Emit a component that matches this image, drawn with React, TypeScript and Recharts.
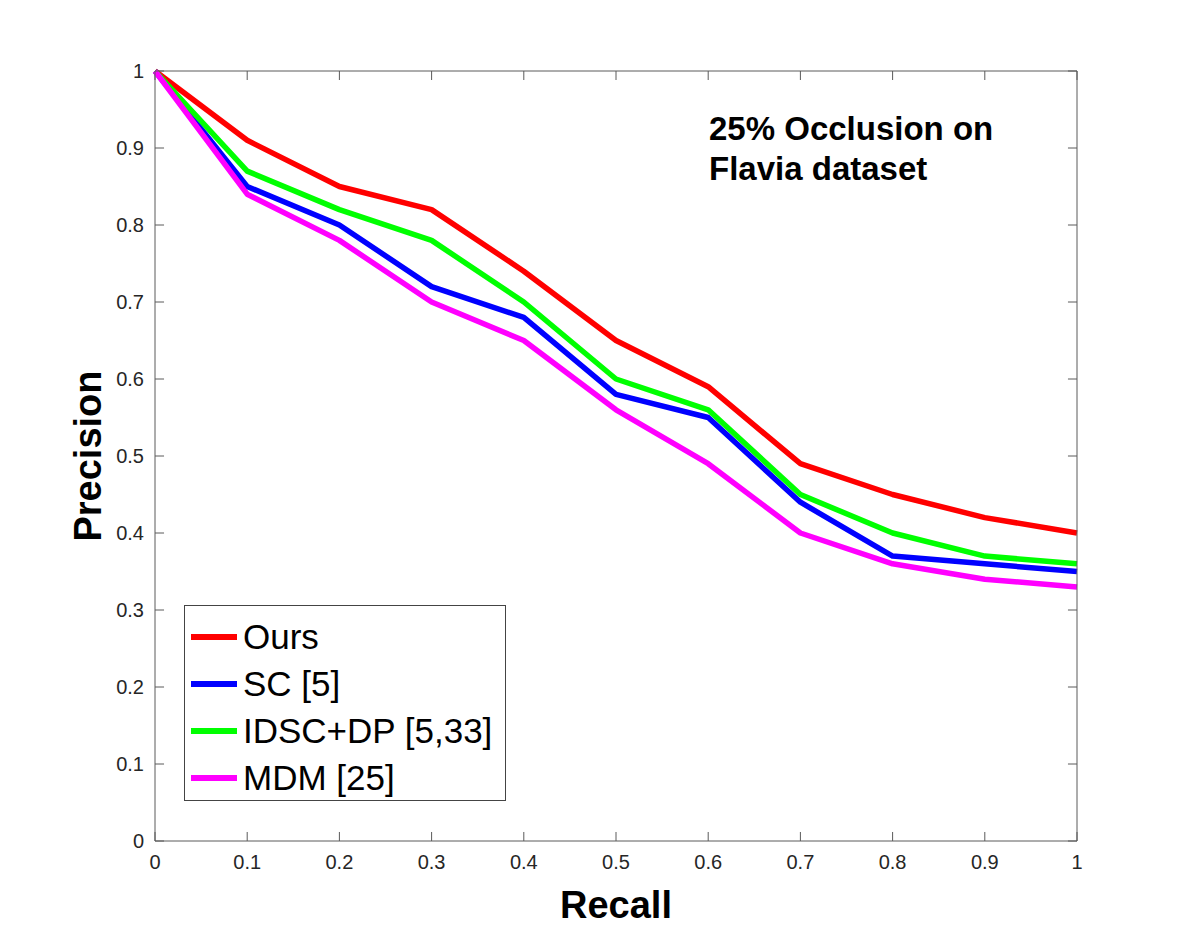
import { LineChart, Line, XAxis, YAxis, Legend, ReferenceLine } from "recharts";

// Precision at each recall level, 25% occlusion on Flavia
const RECALL = [0, 0.1, 0.2, 0.3, 0.4, 0.5, 0.6, 0.7, 0.8, 0.9, 1];
const OURS = [1, 0.91, 0.85, 0.82, 0.74, 0.65, 0.59, 0.49, 0.45, 0.42, 0.4];
const SC = [1, 0.85, 0.8, 0.72, 0.68, 0.58, 0.55, 0.44, 0.37, 0.36, 0.35];
const IDSC_DP = [1, 0.87, 0.82, 0.78, 0.7, 0.6, 0.56, 0.45, 0.4, 0.37, 0.36];
const MDM = [1, 0.84, 0.78, 0.7, 0.65, 0.56, 0.49, 0.4, 0.36, 0.34, 0.33];

const X_TICKS = [0, 0.1, 0.2, 0.3, 0.4, 0.5, 0.6, 0.7, 0.8, 0.9, 1];
const Y_TICKS = [0, 0.1, 0.2, 0.3, 0.4, 0.5, 0.6, 0.7, 0.8, 0.9, 1];

// inward tick length, in axis units (≈9px on each side)
const X_TICK_LEN = 0.0098;
const Y_TICK_LEN = 0.0117;

const SERIES = [
  { key: "ours", name: "Ours", color: "#ff0000", values: OURS },
  { key: "sc", name: "SC [5]", color: "#0000ff", values: SC },
  { key: "idsc", name: "IDSC+DP [5,33]", color: "#00ff00", values: IDSC_DP },
  { key: "mdm", name: "MDM [25]", color: "#ff00ff", values: MDM },
];

const data = RECALL.map((r, i) => {
  const row: Record<string, number> = { recall: r };
  SERIES.forEach((s) => (row[s.key] = s.values[i]));
  return row;
});

const FONT = "'Liberation Sans', Arial, Helvetica, sans-serif";
const AXIS_COLOR = "#5a5a5a";
const LABEL_COLOR = "#262626";

const BottomTick = ({ x, y, payload }: any) => (
  <text x={x} y={y} dy="0.71em" textAnchor="middle" fontSize={20} fontFamily={FONT} fill={LABEL_COLOR}>
    {payload.value}
  </text>
);

const LeftTick = ({ x, y, payload }: any) => (
  <text x={x} y={y} dy="0.36em" textAnchor="end" fontSize={20} fontFamily={FONT} fill={LABEL_COLOR}>
    {payload.value}
  </text>
);

function LegendBox() {
  return (
    <div
      style={{
        width: 322,
        height: 196,
        border: "1px solid #444",
        background: "#fff",
        boxSizing: "border-box",
        paddingTop: 7,
        fontFamily: FONT,
      }}
    >
      {SERIES.map((s) => (
        <div key={s.key} style={{ display: "flex", alignItems: "center", height: 47 }}>
          <span
            style={{
              display: "inline-block",
              width: 46,
              height: 6,
              background: s.color,
              marginLeft: 6,
              marginRight: 6,
            }}
          />
          <span style={{ fontSize: 35, color: "#000", lineHeight: "47px" }}>{s.name}</span>
        </div>
      ))}
    </div>
  );
}

export default function App() {
  return (
    <div style={{ position: "relative", width: 1192, height: 946, background: "#fff" }}>
      <style>{"body{margin:0}"}</style>
      <LineChart
        width={1192}
        height={946}
        data={data}
        margin={{ top: 61, right: 105, bottom: 65, left: 95 }}
      >
        <XAxis
          dataKey="recall"
          type="number"
          domain={[0, 1]}
          ticks={X_TICKS}
          height={40}
          tickLine={false}
          tickSize={0}
          tickMargin={14}
          stroke={AXIS_COLOR}
          tick={BottomTick}
          interval={0}
        />
        <XAxis
          xAxisId="top"
          orientation="top"
          dataKey="recall"
          type="number"
          domain={[0, 1]}
          height={10}
          tick={false}
          tickLine={false}
          stroke={AXIS_COLOR}
        />
        <YAxis
          type="number"
          domain={[0, 1]}
          ticks={Y_TICKS}
          width={60}
          tickLine={false}
          tickSize={0}
          tickMargin={11}
          stroke={AXIS_COLOR}
          tick={LeftTick}
          interval={0}
        />
        <YAxis
          yAxisId="right"
          orientation="right"
          type="number"
          domain={[0, 1]}
          width={10}
          tick={false}
          tickLine={false}
          stroke={AXIS_COLOR}
        />

        {/* inward tick marks on all four sides of the box */}
        {X_TICKS.map((t) => (
          <ReferenceLine
            key={`b${t}`}
            segment={[{ x: t, y: 0 }, { x: t, y: Y_TICK_LEN }]}
            stroke={AXIS_COLOR}
          />
        ))}
        {X_TICKS.map((t) => (
          <ReferenceLine
            key={`t${t}`}
            segment={[{ x: t, y: 1 }, { x: t, y: 1 - Y_TICK_LEN }]}
            stroke={AXIS_COLOR}
          />
        ))}
        {Y_TICKS.map((t) => (
          <ReferenceLine
            key={`l${t}`}
            segment={[{ x: 0, y: t }, { x: X_TICK_LEN, y: t }]}
            stroke={AXIS_COLOR}
          />
        ))}
        {Y_TICKS.map((t) => (
          <ReferenceLine
            key={`r${t}`}
            segment={[{ x: 1, y: t }, { x: 1 - X_TICK_LEN, y: t }]}
            stroke={AXIS_COLOR}
          />
        ))}

        {SERIES.map((s) => (
          <Line
            key={s.key}
            dataKey={s.key}
            name={s.name}
            stroke={s.color}
            strokeWidth={5.5}
            strokeLinejoin="round"
            dot={false}
            activeDot={false}
            isAnimationActive={false}
          />
        ))}
        <Legend
          layout="vertical"
          align="center"
          verticalAlign="middle"
          content={() => <LegendBox />}
          wrapperStyle={{ position: "absolute", left: 184, top: 605, width: 322 }}
        />
      </LineChart>

      <div
        style={{
          position: "absolute",
          left: 709,
          top: 109,
          fontFamily: FONT,
          fontWeight: "bold",
          fontSize: 33,
          lineHeight: "40px",
          color: "#000",
        }}
      >
        25% Occlusion on
        <br />
        Flavia dataset
      </div>

      <div
        style={{
          position: "absolute",
          left: 616,
          top: 905,
          transform: "translate(-50%, -50%)",
          fontFamily: FONT,
          fontWeight: "bold",
          fontSize: 38,
          color: "#000",
          whiteSpace: "nowrap",
        }}
      >
        Recall
      </div>

      <div
        style={{
          position: "absolute",
          left: 88,
          top: 456,
          transform: "translate(-50%, -50%) rotate(-90deg)",
          fontFamily: FONT,
          fontWeight: "bold",
          fontSize: 38,
          color: "#000",
          whiteSpace: "nowrap",
        }}
      >
        Precision
      </div>
    </div>
  );
}
